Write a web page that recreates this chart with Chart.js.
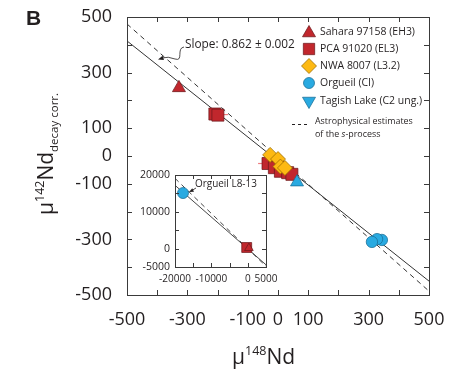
<!DOCTYPE html>
<html>
<head>
<meta charset="utf-8">
<script src="https://cdn.jsdelivr.net/npm/chart.js@4.4.1/dist/chart.umd.min.js"></script>
<style>
html, body { margin: 0; padding: 0; background: #fff; }
#wrap { position: relative; width: 463px; height: 370px; }
#main { position: absolute; left: 0; top: 0; }
#inset { position: absolute; left: 130px; top: 165px; }
</style>
</head>
<body>
<div id="wrap">
  <canvas id="main" width="463" height="370"></canvas>
  <canvas id="inset" width="155" height="125"></canvas>
</div>
<script>
// Data (mu148Nd, mu142Nd decay corr.)
const saharaX = [-328, 18];
const saharaY = [245, -42];
const pcaX = [-209, -199, -33, -12, 8, 32, 46];
const pcaY = [151, 147, -27, -42, -55, -60, -66];
const nwaX = [-26, 0, 8, 23];
const nwaY = [4, -11, -38, -43];
const orgueilX = [344, 328, 311];
const orgueilY = [-302, -299, -309];
const tagishX = [63];
const tagishY = [-94];

// light red error bars on PCA 91020 points: [from, to] and y
const pcaErrX = [[-215, -165], [-66, -25], [20, 63]];
const pcaErrY = [149, -27, -54];

// regression line and s-process line, end points at the axis limits
const fitX = [-500, 500];
const fitY = [414, -450];
const sprocX = [-500, 500];
const sprocY = [475, -486];

const mainTickLabels = [-500, -300, -100, 0, 100, 300, 500];

// inset
const insetOrgueilX = [-17800];
const insetOrgueilY = [15100];
const insetPcaX = [-300];
const insetPcaY = [300];
const insetSaharaX = [300];
const insetSaharaY = [150];
const insetFitX = [-20000, 5000];
const insetFitY = [17200, -4400];
const insetSprocX = [-20000, 5000];
const insetSprocY = [19100, -4800];
const insetXTickLabels = [-20000, -10000, 0, 5000];
const insetYTickLabels = [-5000, 0, 10000, 20000];

const legendNames = ['Sahara 97158 (EH3)', 'PCA 91020 (EL3)', 'NWA 8007 (L3.2)', 'Orgueil (CI)', 'Tagish Lake (C2 ung.)'];

// colours
const RED = '#c1272d', RED_EDGE = '#6d1a1d';
const YEL = '#fdb913', YEL_EDGE = '#9a6b00';
const BLUE = '#29aae1', BLUE_EDGE = '#1a6d96';
const INK = '#231f20';
const FONT = '"Open Sans", sans-serif';

function pts(xs, ys) {
    return xs.map((x, i) => ({ x: x, y: ys[i] }));
}

function drawMarker(ctx, shape, x, y, r, fill, stroke, rot) {
    ctx.save();
    ctx.translate(x, y);
    ctx.rotate((rot || 0) * Math.PI / 180);
    ctx.beginPath();
    if (shape === 'triangle') {
        for (let k = 0; k < 3; k++) {
            const a = k * 2 * Math.PI / 3;
            const px = Math.sin(a) * r, py = -Math.cos(a) * r;
            if (k === 0) ctx.moveTo(px, py); else ctx.lineTo(px, py);
        }
        ctx.closePath();
    } else if (shape === 'rect') {
        const s = r * Math.SQRT1_2;
        ctx.rect(-s, -s, 2 * s, 2 * s);
    } else if (shape === 'rectRot') {
        ctx.moveTo(0, -r); ctx.lineTo(r, 0); ctx.lineTo(0, r); ctx.lineTo(-r, 0);
        ctx.closePath();
    } else {
        ctx.arc(0, 0, r, 0, Math.PI * 2);
    }
    ctx.fillStyle = fill;
    ctx.fill();
    ctx.lineWidth = 0.75;
    ctx.strokeStyle = stroke;
    ctx.stroke();
    ctx.restore();
}

// font size so that text fills a given width
function fitSize(ctx, text, width, style) {
    ctx.font = (style || '') + ' 20px ' + FONT;
    return 20 * width / ctx.measureText(text).width;
}

function richText(ctx, parts, x, y) {
    let cx = x;
    parts.forEach(p => {
        ctx.font = (p.style || '') + ' ' + p.size + 'px ' + FONT;
        ctx.fillText(p.t, cx, y + (p.dy || 0));
        cx += ctx.measureText(p.t).width;
    });
}

function arrowHead(ctx, x, y, ang, len) {
    ctx.beginPath();
    ctx.moveTo(x, y);
    ctx.lineTo(x - len * Math.cos(ang - 0.4), y - len * Math.sin(ang - 0.4));
    ctx.lineTo(x - len * Math.cos(ang + 0.4), y - len * Math.sin(ang + 0.4));
    ctx.closePath();
    ctx.fill();
}

// box frame with inward ticks on all four sides
const framePlugin = {
    id: 'frame',
    beforeDatasetsDraw(chart, args, opts) {
        if (!opts.fill) return;
        const a = chart.chartArea;
        chart.ctx.save();
        chart.ctx.fillStyle = opts.fill;
        chart.ctx.fillRect(a.left, a.top, a.right - a.left, a.bottom - a.top);
        chart.ctx.restore();
    },
    afterDatasetsDraw(chart, args, opts) {
        const ctx = chart.ctx, a = chart.chartArea;
        const len = opts.tickLen || 5;
        ctx.save();
        ctx.strokeStyle = '#3a3a3a';
        ctx.lineWidth = 1;
        ctx.strokeRect(Math.round(a.left) + 0.5, Math.round(a.top) + 0.5,
            Math.round(a.right - a.left), Math.round(a.bottom - a.top));
        ctx.beginPath();
        chart.scales.x.ticks.forEach(t => {
            const p = Math.round(chart.scales.x.getPixelForValue(t.value)) + 0.5;
            ctx.moveTo(p, a.bottom); ctx.lineTo(p, a.bottom - len);
            ctx.moveTo(p, a.top); ctx.lineTo(p, a.top + len);
        });
        chart.scales.y.ticks.forEach(t => {
            const p = Math.round(chart.scales.y.getPixelForValue(t.value)) + 0.5;
            ctx.moveTo(a.left, p); ctx.lineTo(a.left + len, p);
            ctx.moveTo(a.right, p); ctx.lineTo(a.right - len, p);
        });
        ctx.stroke();
        ctx.restore();
    }
};

// titles, legend and slope note of the main panel
const mainText = {
    id: 'mainText',
    afterDraw(chart) {
        const ctx = chart.ctx;
        ctx.save();
        ctx.fillStyle = INK;
        ctx.textBaseline = 'alphabetic';

        ctx.font = 'bold 21px "Liberation Sans", Arial, sans-serif';
        ctx.fillText('B', 26, 25);

        // y title
        ctx.save();
        ctx.translate(53, 215);
        ctx.rotate(-Math.PI / 2);
        richText(ctx, [
            { t: '\u03bc', size: 21 },
            { t: '142', size: 12.5, dy: -9 },
            { t: 'Nd', size: 21 },
            { t: 'decay corr.', size: 11.5, dy: 5 }
        ], 0, 0);
        ctx.restore();

        // x title
        richText(ctx, [
            { t: '\u03bc', size: 21 },
            { t: '148', size: 12.5, dy: -9 },
            { t: 'Nd', size: 21 }
        ], 232, 364);

        // legend
        const shapes = ['triangle', 'rect', 'rectRot', 'circle', 'triangle'];
        const fills = [RED, RED, YEL, BLUE, BLUE];
        const edges = [RED_EDGE, RED_EDGE, YEL_EDGE, BLUE_EDGE, BLUE_EDGE];
        const sizes = [7.5, 8, 7.5, 5.5, 7.5];
        const rots = [0, 0, 0, 0, 180];
        const rowsY = [32, 49, 66, 83, 101];
        const fs = fitSize(ctx, legendNames[0], 95);
        ctx.textBaseline = 'middle';
        legendNames.forEach((name, i) => {
            drawMarker(ctx, shapes[i], 309, rowsY[i] + (i === 0 ? 1 : 0), sizes[i], fills[i], edges[i], rots[i]);
            ctx.font = fs + 'px ' + FONT;
            ctx.fillStyle = INK;
            ctx.fillText(name, 320, rowsY[i]);
        });
        ctx.strokeStyle = INK;
        ctx.lineWidth = 1;
        ctx.setLineDash([3, 3]);
        ctx.beginPath();
        ctx.moveTo(292, 124.5); ctx.lineTo(309, 124.5);
        ctx.stroke();
        ctx.setLineDash([]);
        const fs2 = fitSize(ctx, 'Astrophysical estimates', 98);
        ctx.font = fs2 + 'px ' + FONT;
        ctx.fillText('Astrophysical estimates', 315, 121);
        richText(ctx, [
            { t: 'of the ', size: fs2 },
            { t: 's', size: fs2, style: 'italic' },
            { t: '-process', size: fs2 }
        ], 315, 134);

        // slope note with arrow
        const fs3 = fitSize(ctx, 'Slope: 0.862 \u00b1 0.002', 110);
        ctx.font = fs3 + 'px ' + FONT;
        ctx.fillText('Slope: 0.862 \u00b1 0.002', 185, 45);
        ctx.lineWidth = 0.8;
        ctx.beginPath();
        ctx.moveTo(184, 47);
        ctx.bezierCurveTo(176, 48, 184, 62, 175, 59);
        ctx.quadraticCurveTo(168, 56, 162, 58);
        ctx.stroke();
        ctx.fillStyle = INK;
        arrowHead(ctx, 158, 59.5, Math.PI - 0.3, 6);
        ctx.restore();
    }
};

const insetText = {
    id: 'insetText',
    afterDraw(chart) {
        const ctx = chart.ctx;
        ctx.save();
        ctx.fillStyle = INK;
        ctx.strokeStyle = INK;
        const fs = fitSize(ctx, 'Orgueil L8-13', 62);
        ctx.font = fs + 'px ' + FONT;
        ctx.textBaseline = 'middle';
        ctx.fillText('Orgueil L8-13', 65, 19);
        ctx.lineWidth = 0.8;
        ctx.beginPath();
        ctx.moveTo(66, 23);
        ctx.lineTo(61, 26);
        ctx.stroke();
        arrowHead(ctx, 59, 27, Math.atan2(4, -8), 5);
        ctx.restore();
    }
};

function lineSet(xs, ys, dash, width) {
    return {
        type: 'line', data: pts(xs, ys), borderColor: '#333', borderWidth: width || 0.9,
        borderDash: dash || [], pointRadius: 0, fill: false, tension: 0
    };
}

function pointSet(label, xs, ys, style, r, fill, edge) {
    return {
        label: label, data: pts(xs, ys), pointStyle: style, pointRadius: r,
        backgroundColor: fill, borderColor: edge, borderWidth: 0.75, showLine: false
    };
}

function tickCallback(list) {
    return function (v) { return list.includes(v) ? String(v) : ''; };
}

// keep the plot box where the layout padding puts it
function noLabelPadding(s) {
    s.paddingTop = 0; s.paddingBottom = 0; s.paddingLeft = 0; s.paddingRight = 0;
}

const errSets = pcaErrX.map((r, i) => ({
    type: 'line', data: pts(r, [pcaErrY[i], pcaErrY[i]]), borderColor: '#ee7d80',
    borderWidth: 1.2, pointRadius: 0, fill: false
}));

new Chart(document.getElementById('main'), {
    type: 'scatter',
    data: {
        datasets: [
            pointSet('Tagish Lake (C2 ung.)', tagishX, tagishY, 'triangle', 7.5, BLUE, BLUE_EDGE),
            pointSet('Orgueil (CI)', orgueilX, orgueilY, 'circle', 5.7, BLUE, BLUE_EDGE),
            pointSet('NWA 8007 (L3.2)', nwaX, nwaY, 'rectRot', 7.5, YEL, YEL_EDGE),
            pointSet('PCA 91020 (EL3)', pcaX, pcaY, 'rect', 8.5, RED, RED_EDGE),
            pointSet('Sahara 97158 (EH3)', saharaX, saharaY, 'triangle', 7.5, RED, RED_EDGE)
        ].concat(errSets, [
            lineSet(fitX, fitY, [], 1),
            lineSet(sprocX, sprocY, [5, 4], 1)
        ])
    },
    options: {
        responsive: false,
        animation: false,
        devicePixelRatio: 1,
        layout: { padding: { left: 0, top: 17, right: 34, bottom: 0 } },
        plugins: {
            legend: { display: false },
            tooltip: { enabled: false },
            frame: { tickLen: 5 }
        },
        scales: {
            x: {
                type: 'linear', min: -500, max: 500,
                grid: { display: false, drawTicks: false },
                border: { display: false },
                ticks: {
                    stepSize: 100, autoSkip: false, maxRotation: 0, padding: 14,
                    color: INK, font: { family: FONT, size: 18 },
                    callback: tickCallback(mainTickLabels)
                },
                afterFit(s) { s.height = 75; noLabelPadding(s); }
            },
            y: {
                type: 'linear', min: -500, max: 500,
                grid: { display: false, drawTicks: false },
                border: { display: false },
                ticks: {
                    stepSize: 100, autoSkip: false, padding: 15,
                    color: INK, font: { family: FONT, size: 18 },
                    callback: tickCallback(mainTickLabels)
                },
                afterFit(s) { s.width = 127; noLabelPadding(s); }
            }
        }
    },
    plugins: [framePlugin, mainText]
});

new Chart(document.getElementById('inset'), {
    type: 'scatter',
    data: {
        datasets: [
            pointSet('Orgueil L8-13', insetOrgueilX, insetOrgueilY, 'circle', 5.5, BLUE, BLUE_EDGE),
            pointSet('Sahara 97158', insetSaharaX, insetSaharaY, 'triangle', 5, RED, RED_EDGE),
            pointSet('PCA 91020', insetPcaX, insetPcaY, 'rect', 7, RED, RED_EDGE),
            lineSet(insetFitX, insetFitY, [], 0.9),
            lineSet(insetSprocX, insetSprocY, [5, 4], 0.9)
        ]
    },
    options: {
        responsive: false,
        animation: false,
        devicePixelRatio: 1,
        layout: { padding: { left: 0, top: 10, right: 19, bottom: 0 } },
        plugins: {
            legend: { display: false },
            tooltip: { enabled: false },
            frame: { tickLen: 4, fill: '#fff' }
        },
        scales: {
            x: {
                type: 'linear', min: -20000, max: 5000,
                grid: { display: false, drawTicks: false },
                border: { display: false },
                ticks: {
                    stepSize: 5000, autoSkip: false, maxRotation: 0, padding: 6,
                    color: INK, font: { family: FONT, size: 10 },
                    callback: tickCallback(insetXTickLabels)
                },
                afterFit(s) { s.height = 23; noLabelPadding(s); }
            },
            y: {
                type: 'linear', min: -5000, max: 20000,
                grid: { display: false, drawTicks: false },
                border: { display: false },
                ticks: {
                    stepSize: 5000, autoSkip: false, padding: 5,
                    color: INK, font: { family: FONT, size: 10.5 },
                    callback: tickCallback(insetYTickLabels)
                },
                afterFit(s) { s.width = 45; noLabelPadding(s); }
            }
        }
    },
    plugins: [framePlugin, insetText]
});
</script>
</body>
</html>
